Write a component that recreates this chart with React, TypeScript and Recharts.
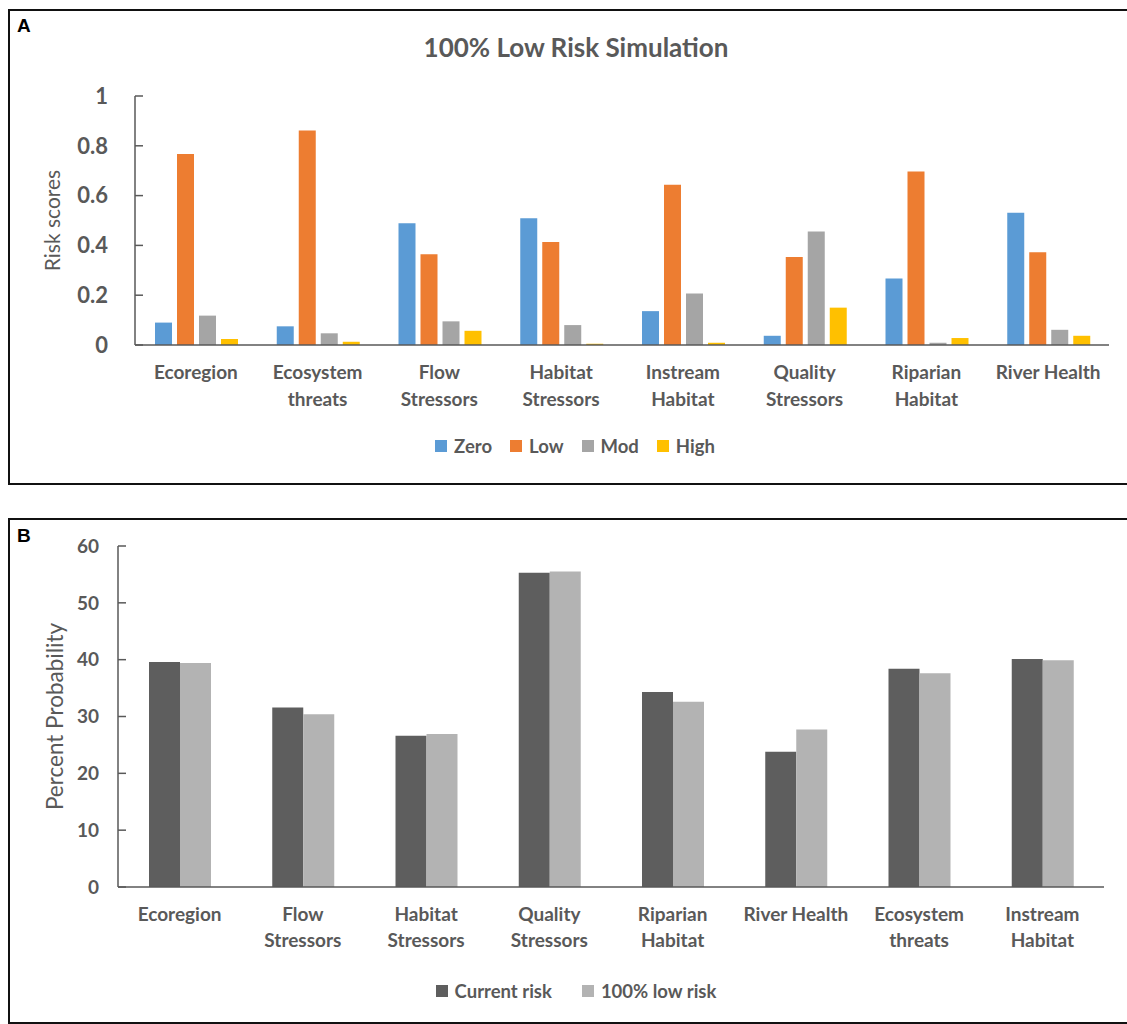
import { Bar, BarChart, Legend, XAxis, YAxis } from "recharts";

const FONT = "Lato, 'Noto Sans', sans-serif";
const TEXT = "#595959";
const AXIS = "#595959";

// panel A – 100% low risk simulation
const riskCategories = [
  "Ecoregion",
  "Ecosystem\nthreats",
  "Flow\nStressors",
  "Habitat\nStressors",
  "Instream\nHabitat",
  "Quality\nStressors",
  "Riparian\nHabitat",
  "River Health",
];
const zeroScores = [0.09, 0.075, 0.489, 0.509, 0.136, 0.037, 0.267, 0.531];
const lowScores = [0.767, 0.861, 0.364, 0.414, 0.644, 0.353, 0.697, 0.372];
const modScores = [0.118, 0.047, 0.095, 0.08, 0.207, 0.456, 0.009, 0.061];
const highScores = [0.024, 0.013, 0.057, 0.005, 0.009, 0.15, 0.028, 0.037];
const riskTicks = [0, 0.2, 0.4, 0.6, 0.8, 1];
const riskLegendOrder = ["Zero", "Low", "Mod", "High"];

// panel B – current vs simulated probability
const probCategories = [
  "Ecoregion",
  "Flow\nStressors",
  "Habitat\nStressors",
  "Quality\nStressors",
  "Riparian\nHabitat",
  "River Health",
  "Ecosystem\nthreats",
  "Instream\nHabitat",
];
const currentRisk = [39.6, 31.6, 26.6, 55.3, 34.3, 23.8, 38.4, 40.1];
const lowRiskSim = [39.4, 30.4, 26.9, 55.5, 32.6, 27.7, 37.6, 39.9];
const probTicks = [0, 10, 20, 30, 40, 50, 60];
const probLegendOrder = ["Current risk", "100% low risk"];

const riskData = riskCategories.map((name, i) => ({
  name,
  Zero: zeroScores[i],
  Low: lowScores[i],
  Mod: modScores[i],
  High: highScores[i],
}));

const probData = probCategories.map((name, i) => ({
  name,
  current: currentRisk[i],
  low: lowRiskSim[i],
}));

const WrappedTick = ({ x, y, payload, lineGap }: any) => {
  const lines = String(payload.value).split("\n");
  return (
    <text
      x={x}
      y={y}
      textAnchor="middle"
      fill={TEXT}
      fontSize={19}
      fontWeight={700}
      fontFamily={FONT}
    >
      {lines.map((line, i) => (
        <tspan key={i} x={x} dy={i === 0 ? 13 : lineGap}>
          {line}
        </tspan>
      ))}
    </text>
  );
};

const makeLegend =
  (order: string[], gap: number) =>
  ({ payload }: any) => {
    const items = [...(payload || [])].sort(
      (a: any, b: any) => order.indexOf(a.value) - order.indexOf(b.value)
    );
    return (
      <div style={{ display: "flex", justifyContent: "center", gap }}>
        {items.map((entry: any) => (
          <div
            key={entry.value}
            style={{ display: "flex", alignItems: "center", gap: 7 }}
          >
            <span
              style={{
                width: 12,
                height: 12,
                background: entry.color,
                display: "inline-block",
              }}
            />
            <span
              style={{
                color: TEXT,
                fontSize: 18.5,
                fontWeight: 700,
                fontFamily: FONT,
              }}
            >
              {entry.value}
            </span>
          </div>
        ))}
      </div>
    );
  };

const panelBox = (top: number, height: number) => ({
  position: "absolute" as const,
  left: 8,
  top,
  width: 1200,
  height,
  border: "2px solid #111",
  boxSizing: "border-box" as const,
});

const panelLetter = (top: number) => ({
  position: "absolute" as const,
  left: 17,
  top,
  fontFamily: "'Liberation Sans', Arial, sans-serif",
  fontWeight: 700,
  fontSize: 19,
  color: "#000",
});

export default function App() {
  return (
    <div
      style={{
        position: "relative",
        width: 1127,
        height: 1024,
        overflow: "hidden",
        background: "#fff",
      }}
    >
      <style>{"body{margin:0}"}</style>
      <div style={panelBox(9, 476)} />
      <div style={panelBox(518, 506)} />
      <div style={panelLetter(15)}>A</div>
      <div style={panelLetter(525)}>B</div>

      <div
        style={{
          position: "absolute",
          left: 326,
          top: 31,
          width: 500,
          textAlign: "center",
          fontFamily: FONT,
          fontWeight: 700,
          fontSize: 26,
          color: TEXT,
        }}
      >
        100% Low Risk Simulation
      </div>

      <div style={{ position: "absolute", left: 0, top: 0 }}>
        <BarChart
          width={1127}
          height={484}
          data={riskData}
          margin={{ top: 96, right: 18, left: 0, bottom: 79 }}
          barCategoryGap={20}
          barGap={5}
        >
          <XAxis
            dataKey="name"
            interval={0}
            height={60}
            tickSize={0}
            tickMargin={21}
            axisLine={{ stroke: AXIS, strokeWidth: 1.5 }}
            tick={<WrappedTick lineGap={27} />}
          />
          <YAxis
            width={135}
            domain={[0, 1]}
            ticks={riskTicks}
            tickSize={-8}
            tickMargin={35}
            axisLine={{ stroke: AXIS, strokeWidth: 1.5 }}
            tickLine={{ stroke: AXIS, strokeWidth: 1.5 }}
            tick={{
              fill: TEXT,
              fontSize: 22,
              fontWeight: 700,
              fontFamily: FONT,
            }}
            label={{
              value: "Risk scores",
              angle: -90,
              position: "insideLeft",
              offset: 53,
              style: {
                textAnchor: "middle",
                fill: TEXT,
                fontSize: 21,
                fontFamily: FONT,
              },
            }}
          />
          <Legend
            layout="horizontal"
            verticalAlign="middle"
            align="center"
            wrapperStyle={{ top: 435, left: 375, width: 400 }}
            content={makeLegend(riskLegendOrder, 18)}
          />
          <Bar dataKey="Zero" fill="#5B9BD5" isAnimationActive={false} />
          <Bar dataKey="Low" fill="#ED7D31" isAnimationActive={false} />
          <Bar dataKey="Mod" fill="#A5A5A5" isAnimationActive={false} />
          <Bar dataKey="High" fill="#FFC000" isAnimationActive={false} />
        </BarChart>
      </div>

      <div style={{ position: "absolute", left: 0, top: 490 }}>
        <BarChart
          width={1127}
          height={534}
          data={probData}
          margin={{ top: 56, right: 23, left: 0, bottom: 77 }}
          barCategoryGap={31}
          barGap={0}
        >
          <XAxis
            dataKey="name"
            interval={0}
            height={60}
            tickSize={0}
            tickMargin={21}
            axisLine={{ stroke: AXIS, strokeWidth: 1.5 }}
            tick={<WrappedTick lineGap={26} />}
          />
          <YAxis
            width={118}
            domain={[0, 60]}
            ticks={probTicks}
            tickSize={-8}
            tickMargin={27}
            axisLine={{ stroke: AXIS, strokeWidth: 1.5 }}
            tickLine={{ stroke: AXIS, strokeWidth: 1.5 }}
            tick={{
              fill: TEXT,
              fontSize: 19,
              fontWeight: 700,
              fontFamily: FONT,
            }}
            label={{
              value: "Percent Probability",
              angle: -90,
              position: "insideLeft",
              offset: 55,
              style: {
                textAnchor: "middle",
                fill: TEXT,
                fontSize: 22.5,
                fontFamily: FONT,
              },
            }}
          />
          <Legend
            layout="horizontal"
            verticalAlign="middle"
            align="center"
            wrapperStyle={{ top: 490, left: 376, width: 400 }}
            content={makeLegend(probLegendOrder, 30)}
          />
          <Bar
            dataKey="current"
            name="Current risk"
            fill="#5E5E5E"
            isAnimationActive={false}
          />
          <Bar
            dataKey="low"
            name="100% low risk"
            fill="#B3B3B3"
            isAnimationActive={false}
          />
        </BarChart>
      </div>
    </div>
  );
}
